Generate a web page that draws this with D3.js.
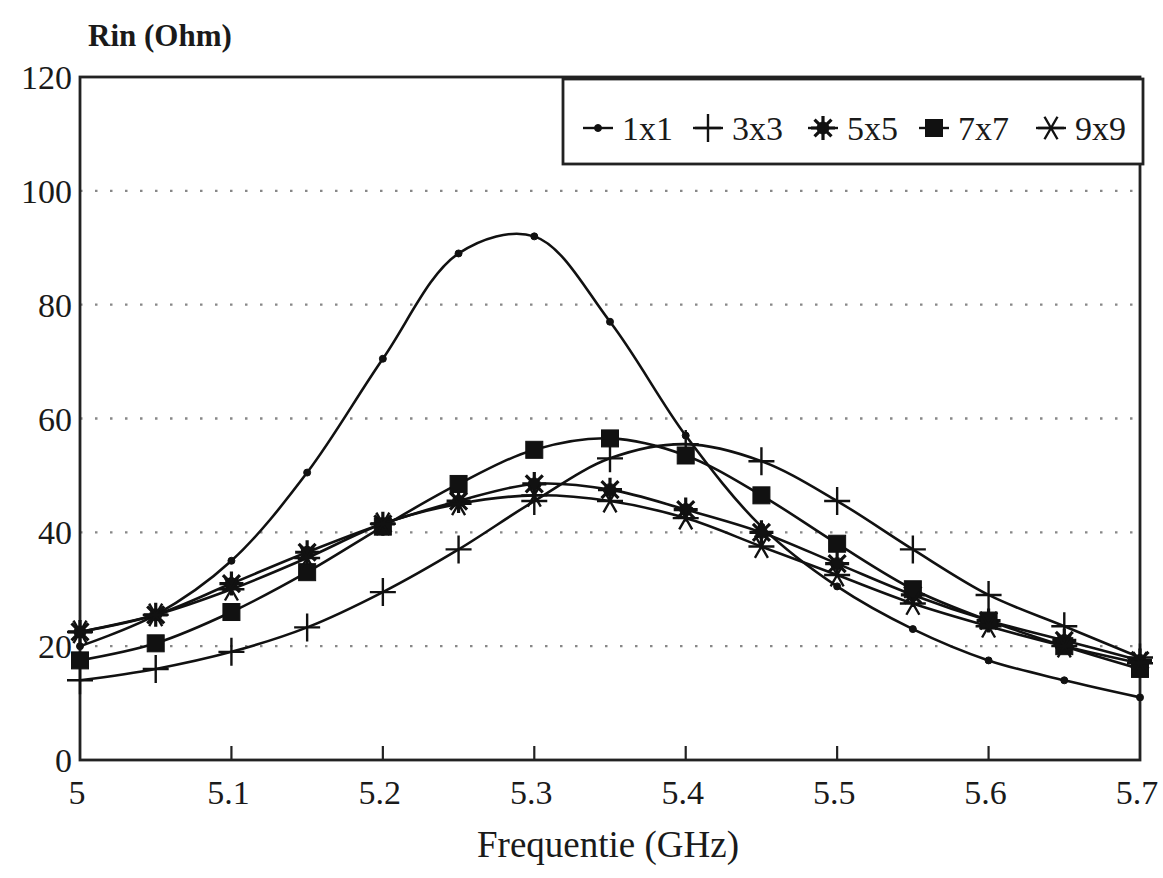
<!DOCTYPE html>
<html>
<head>
<meta charset="utf-8">
<script src="https://cdn.jsdelivr.net/npm/d3@7"></script>
<style>
  body { margin: 0; background: #fff; }
  svg { display: block; font-family: "Liberation Serif", "DejaVu Serif", serif; }
</style>
</head>
<body>
<svg id="chart" width="1163" height="878"></svg>
<script>
// frequencies (GHz)
const freqs = [5, 5.05, 5.1, 5.15, 5.2, 5.25, 5.3, 5.35, 5.4, 5.45, 5.5, 5.55, 5.6, 5.65, 5.7]
// Rin (Ohm) per array size
const rin1x1 = [20, 25.5, 35, 50.5, 70.5, 89, 92, 77, 57, 41, 30.5, 23, 17.5, 14, 11]
const rin3x3 = [14, 16, 19, 23.3, 29.5, 37, 45.5, 53, 55.5, 52.5, 45.5, 37, 29, 23.5, 18]
const rin5x5 = [22.5, 25.5, 31, 36.5, 41.5, 45.5, 48.5, 47.5, 44, 40, 34.5, 29, 24.5, 21, 17.5]
const rin7x7 = [17.5, 20.5, 26, 33, 41, 48.5, 54.5, 56.5, 53.5, 46.5, 38, 30, 24.5, 20, 16]
const rin9x9 = [22.5, 25.5, 30, 35.5, 41.5, 45, 46.5, 45.5, 42.5, 37.5, 32.5, 27.5, 23.5, 20, 17]
const seriesNames = ['1x1', '3x3', '5x5', '7x7', '9x9']
const seriesValues = [rin1x1, rin3x3, rin5x5, rin7x7, rin9x9]
const xTicks = [5, 5.1, 5.2, 5.3, 5.4, 5.5, 5.6, 5.7]
const yTicks = [0, 20, 40, 60, 80, 100, 120]

const svg = d3.select('#chart')
const x = d3.scaleLinear().domain([5, 5.7]).range([80, 1140])
const y = d3.scaleLinear().domain([0, 120]).range([760, 77])

// dotted grid lines
svg.append('g').selectAll('line')
  .data(yTicks.filter(v => v > 0 && v < 120))
  .enter().append('line')
    .attr('x1', x(5)).attr('x2', x(5.7))
    .attr('y1', d => y(d)).attr('y2', d => y(d))
    .attr('stroke', '#888').attr('stroke-width', 2.4)
    .attr('stroke-dasharray', '2.5,12.5')

// frame
svg.append('rect')
  .attr('x', x(5)).attr('y', y(120))
  .attr('width', x(5.7) - x(5)).attr('height', y(0) - y(120))
  .attr('fill', 'none').attr('stroke', '#222').attr('stroke-width', 2.8)

// x ticks (inside, upward)
svg.append('g').selectAll('line')
  .data(xTicks.slice(1, -1))
  .enter().append('line')
    .attr('x1', d => x(d)).attr('x2', d => x(d))
    .attr('y1', y(0)).attr('y2', y(0) - 14)
    .attr('stroke', '#222').attr('stroke-width', 2.2)

svg.append('g').selectAll('text')
  .data(xTicks)
  .enter().append('text')
    .attr('x', d => x(d) - 3).attr('y', 804)
    .attr('text-anchor', 'middle')
    .attr('font-size', 34)
    .attr('fill', '#1a1a1a')
    .text(d => d3.format('')(d))

svg.append('g').selectAll('text')
  .data(yTicks)
  .enter().append('text')
    .attr('x', 72).attr('y', d => y(d) + 12)
    .attr('text-anchor', 'end')
    .attr('font-size', 34)
    .attr('fill', '#1a1a1a')
    .text(d => d)

svg.append('text').attr('x', 88).attr('y', 46)
  .attr('font-size', 31).attr('font-weight', 'bold')
  .attr('fill', '#1a1a1a').text('Rin (Ohm)')
svg.append('text').attr('x', 608).attr('y', 857)
  .attr('text-anchor', 'middle')
  .attr('font-size', 37).attr('fill', '#1a1a1a').text('Frequentie (GHz)')

// marker symbols
function drawMarker(g, k, cx, cy) {
  const m = g.append('g').attr('transform', `translate(${cx},${cy})`)
    .attr('stroke', '#111').attr('fill', '#111')
  if (k === 0) {
    m.append('circle').attr('r', 3.5)
  } else if (k === 1) {
    m.append('path').attr('d', 'M-13,0H13M0,-14V14').attr('stroke-width', 2.4).attr('fill', 'none')
  } else if (k === 2) {
    let d = ''
    for (let i = 0; i < 4; i++) {
      const a = i * Math.PI / 4
      d += `M${-12 * Math.cos(a)},${-12 * Math.sin(a)}L${12 * Math.cos(a)},${12 * Math.sin(a)}`
    }
    m.append('path').attr('d', d).attr('stroke-width', 3.2).attr('fill', 'none')
    m.append('circle').attr('r', 6)
  } else if (k === 3) {
    m.append('rect').attr('x', -8.5).attr('y', -8.5).attr('width', 17).attr('height', 17)
  } else {
    let d = ''
    for (let i = 0; i < 3; i++) {
      const a = i * Math.PI / 3
      d += `M${-13 * Math.cos(a)},${-13 * Math.sin(a)}L${13 * Math.cos(a)},${13 * Math.sin(a)}`
    }
    m.append('path').attr('d', d).attr('stroke-width', 2.4).attr('fill', 'none')
  }
}

const line = d3.line()
  .x(d => x(d[0])).y(d => y(d[1]))
  .curve(d3.curveCatmullRom.alpha(0.5))

seriesValues.forEach((vals, k) => {
  const pts = freqs.map((f, i) => [f, vals[i]])
  svg.append('path').datum(pts)
    .attr('d', line)
    .attr('fill', 'none').attr('stroke', '#111').attr('stroke-width', 2.6)
  const g = svg.append('g')
  pts.forEach(p => drawMarker(g, k, x(p[0]), y(p[1])))
})

// legend
const lg = svg.append('g')
lg.append('rect').attr('x', 563).attr('y', 79).attr('width', 580).attr('height', 85)
  .attr('fill', '#fff').attr('stroke', '#222').attr('stroke-width', 2.8)
const legX = [583, 693, 808, 919, 1036]
seriesNames.forEach((name, k) => {
  lg.append('line').attr('x1', legX[k]).attr('x2', legX[k] + 30)
    .attr('y1', 128).attr('y2', 128)
    .attr('stroke', '#111').attr('stroke-width', 2.4)
  drawMarker(lg, k, legX[k] + 15, 128)
  lg.append('text').attr('x', legX[k] + 39).attr('y', 140)
    .attr('font-size', 34).attr('fill', '#1a1a1a').text(name)
})
</script>
</body>
</html>
